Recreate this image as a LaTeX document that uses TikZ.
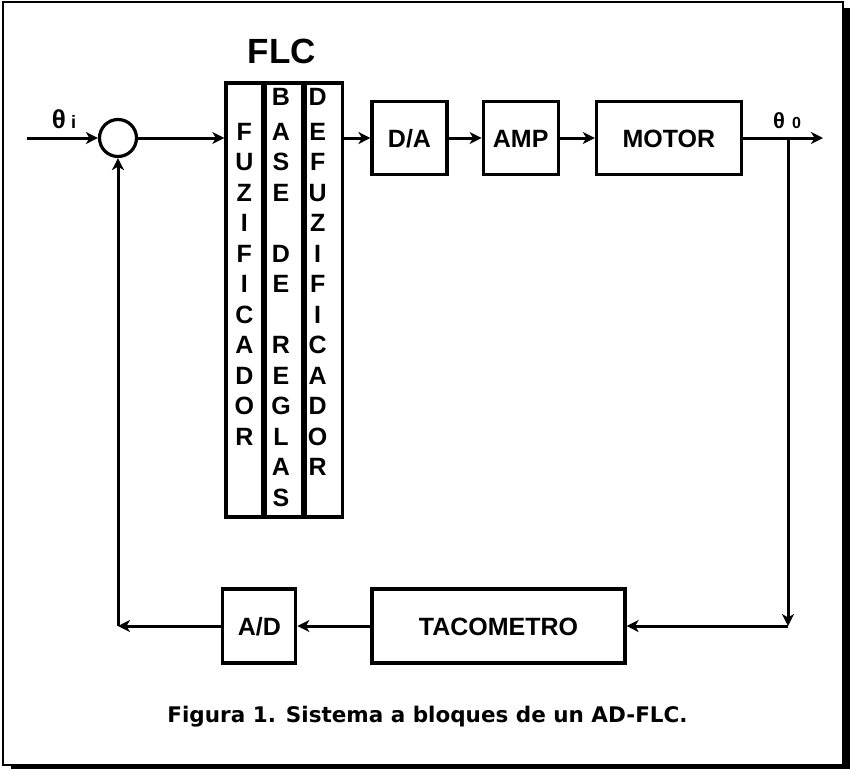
\documentclass[tikz,border=0pt]{standalone}
\usepackage{fontspec}
\setmainfont{Liberation Sans}
\newfontfamily\captionfont{DejaVu Sans}
\usetikzlibrary{arrows.meta,positioning}
\definecolor{ink}{HTML}{000000}
\newcommand\blockfont{\fontsize{25}{30}\selectfont\bfseries}
\tikzset{
  block/.style={draw=ink,line width=3.2pt,fill=white,font=\blockfont,text=ink,inner sep=0pt,text height=18pt,text depth=0pt,minimum height=73pt},
  column/.style={draw=ink,line width=3.2pt,minimum width=36.7pt,minimum height=434pt,inner sep=0pt},
  letter/.style={font=\blockfont,text=ink,anchor=base,inner sep=0pt},
  sig/.style={-{Stealth[length=12pt,width=12pt,inset=3.5pt]},line width=3pt,draw=ink},
  sumjunction/.style={circle,draw=ink,line width=3.2pt,minimum size=37pt,inner sep=0pt}
}

\begin{document}
\begin{tikzpicture}[x=1pt,y=-1pt,
    title/.style={font=\fontsize{35}{40}\selectfont\bfseries,text=ink,anchor=base,inner sep=0pt}
  ]
  \useasboundingbox (0,0) rectangle (850,769);
  % frame and shadow
  \fill[ink] (11,8) rectangle (850,769);
  \draw[ink,line width=1.6pt,fill=white] (3,2) rectangle (843,765);

  % FLC in three columns
  \node[column] (fuz) at (244.3,300) {};
  \node[column,right=0pt of fuz] (base) {};
  \node[column,right=0pt of base] (defuz) {};
  \node[title] (flc) at (282,63) {FLC};
  \foreach \ch [count=\k from 1] in {F,U,Z,I,F,I,C,A,D,O,R}
    \node[letter] at (244.3,{140+30.5*(\k-1)}) {\ch};
  \foreach \ch [count=\k from 0] in {B,A,S,E,{},D,E,{},R,E,G,L,A,S}
    \node[letter] at (281,{140+30.5*(\k-1)-4.5*(\k==0)}) {\ch};
  \foreach \ch [count=\k from 0] in {D,E,F,U,Z,I,F,I,C,A,D,O,R}
    \node[letter] at (317.7,{140+30.5*(\k-1)-4.5*(\k==0)}) {\ch};

  % forward path
  \node[sumjunction] (sum) at (118,138) {};
  \node[block,minimum width=75pt] (da) at (409.5,138) {D/A};
  \node[block,minimum width=75pt,right=33pt of da] (amp) {AMP};
  \node[block,minimum width=145pt,right=35pt of amp] (motor) {MOTOR};

  % feedback path
  \node[block,minimum width=253pt,minimum height=74pt] (taco) at (498.5,626) {TACOMETRO};
  \node[block,minimum width=73pt,minimum height=74pt,left=73pt of taco] (ad) {A/D};

  \coordinate (in) at (27,138);
  \coordinate (out) at (823,138);
  \coordinate (tap) at (788,138);
  \coordinate (corner) at (788,626);
  \coordinate (back) at (118,626);

  \draw[sig] (in) -- (sum);
  \draw[sig] (sum) -- (sum -| fuz.west);
  \draw[sig] (da -| defuz.east) -- (da);
  \draw[sig] (da) -- (amp);
  \draw[sig] (amp) -- (motor);
  \draw[sig] (motor) -- (out);
  \draw[sig] (tap) -- (corner);
  \draw[sig] (corner) -- (taco);
  \draw[sig] (taco) -- (ad);
  \draw[sig] (ad) -- (back);
  \draw[sig] (back) -- (sum);

  % signal labels
  \node[anchor=base,inner sep=0pt,font=\bfseries] (thetain) at (64,128)
    {{\fontsize{26}{28}\selectfont θ}\hspace{5pt}{\fontsize{18}{20}\selectfont i}};
  \node[anchor=base,inner sep=0pt,font=\bfseries] (thetaout) at (787,128)
    {{\fontsize{22}{24}\selectfont θ}\hspace{7pt}{\fontsize{16}{18}\selectfont 0}};

  \node[anchor=base,inner sep=0pt,font=\captionfont\bfseries\fontsize{21.5}{26}\selectfont] (caption) at (427.5,722)
    {Figura 1. Sistema a bloques de un AD-FLC.};
\end{tikzpicture}
\end{document}
